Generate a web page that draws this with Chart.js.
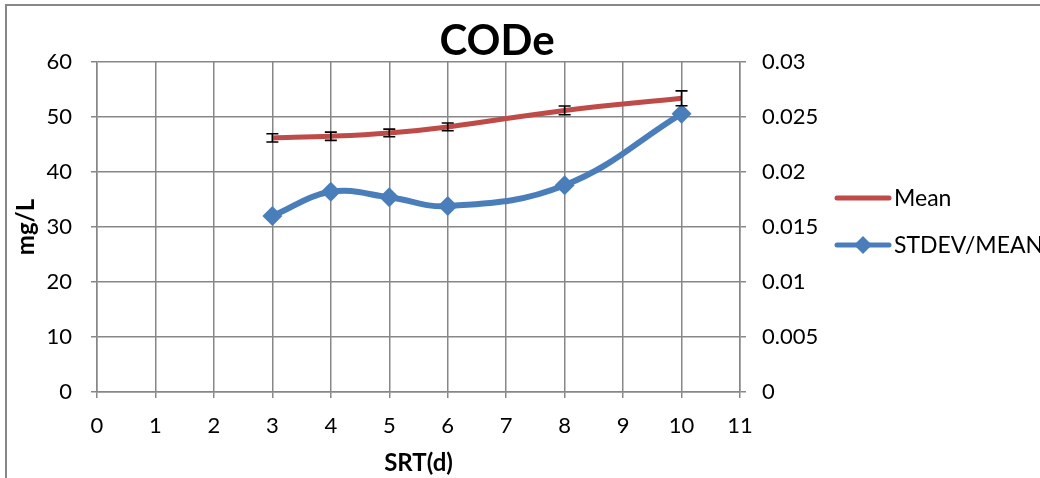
<!DOCTYPE html>
<html><head><meta charset="utf-8">
<script src="https://cdn.jsdelivr.net/npm/chart.js@4"></script>
<style>
html,body{margin:0;padding:0;background:#fff;overflow:hidden}
#wrap{position:relative;width:1040px;height:478px;overflow:hidden}
#frame{position:absolute;left:5px;top:4px;width:1100px;height:600px;border-left:2px solid #878787;border-top:2px solid #878787}
canvas{position:absolute;left:0;top:0}
</style></head><body>
<div id="wrap"><div id="frame"></div><canvas id="c" width="1040" height="478"></canvas></div>
<script>
// SRT (days) and the effluent COD statistics measured at each
const srt = [3, 4, 5, 6, 8, 10];
const meanCOD = [46.2, 46.5, 47.1, 48.2, 51.2, 53.4];
const meanErr = [0.75, 0.75, 0.7, 0.7, 0.8, 1.35];
const stdevOverMean = [0.0160, 0.0182, 0.0177, 0.0169, 0.0188, 0.0253];

// axis ticks
const xTicks = [0, 1, 2, 3, 4, 5, 6, 7, 8, 9, 10, 11];
const leftTicks = [0, 10, 20, 30, 40, 50, 60];
const rightTicks = [0, 0.005, 0.01, 0.015, 0.02, 0.025, 0.03];
const rightTickLabels = ['0', '0.005', '0.01', '0.015', '0.02', '0.025', '0.03'];

const chartTitle = 'CODe';
const xTitle = 'SRT(d)';
const yTitle = 'mg/L';

const FONT = 'Lato, "Open Sans", sans-serif';
const GRID = '#878787';
const RED = '#BE4B48';
const BLUE = '#4A7EBB';

const toPoints = (xs, ys) => xs.map((x, i) => ({ x, y: ys[i] }));
const setTicks = (vals) => (scale) => { scale.ticks = vals.map(v => ({ value: v })); };

const titlePlugin = {
  id: 'chartTitleText',
  afterDraw(chart) {
    const ctx = chart.ctx;
    ctx.save();
    ctx.font = 'bold 42px ' + FONT;
    ctx.fillStyle = '#000';
    ctx.textAlign = 'center';
    ctx.textBaseline = 'alphabetic';
    ctx.fillText(chartTitle, 497, 55);
    ctx.restore();
  }
};

const errorBars = {
  id: 'errorBars',
  afterDatasetsDraw(chart) {
    const ctx = chart.ctx;
    const xs = chart.scales.x, ys = chart.scales.y;
    ctx.save();
    ctx.strokeStyle = '#000';
    ctx.lineWidth = 1.6;
    srt.forEach((x, i) => {
      const px = xs.getPixelForValue(x);
      const top = ys.getPixelForValue(meanCOD[i] + meanErr[i]);
      const bot = ys.getPixelForValue(meanCOD[i] - meanErr[i]);
      ctx.beginPath();
      ctx.moveTo(px, top); ctx.lineTo(px, bot);
      ctx.moveTo(px - 6, top); ctx.lineTo(px + 6, top);
      ctx.moveTo(px - 6, bot); ctx.lineTo(px + 6, bot);
      ctx.stroke();
    });
    ctx.restore();
  }
};

const sideLegend = {
  id: 'sideLegend',
  afterDraw(chart) {
    const ctx = chart.ctx;
    const rows = [198, 245];
    ctx.save();
    chart.data.datasets.forEach((ds, i) => {
      const y = rows[i];
      ctx.strokeStyle = ds.borderColor;
      ctx.lineWidth = 5;
      ctx.lineCap = 'round';
      ctx.beginPath();
      ctx.moveTo(837, y); ctx.lineTo(889, y);
      ctx.stroke();
      if (ds.pointRadius > 0) {
        ctx.fillStyle = ds.pointBackgroundColor;
        ctx.beginPath();
        ctx.moveTo(863, y - 9); ctx.lineTo(872, y); ctx.lineTo(863, y + 9); ctx.lineTo(854, y);
        ctx.closePath();
        ctx.fill();
      }
      ctx.fillStyle = '#000';
      ctx.font = '23px ' + FONT;
      ctx.textAlign = 'left';
      ctx.textBaseline = 'middle';
      ctx.fillText(ds.label, 894, y + 1);
    });
    ctx.restore();
  }
};

new Chart(document.getElementById('c'), {
  type: 'line',
  data: {
    datasets: [
      {
        label: 'Mean',
        data: toPoints(srt, meanCOD),
        yAxisID: 'y',
        borderColor: RED,
        backgroundColor: RED,
        borderWidth: 5,
        pointRadius: 0,
        tension: 0.4,
        order: 2
      },
      {
        label: 'STDEV/MEAN',
        data: toPoints(srt, stdevOverMean),
        yAxisID: 'y1',
        borderColor: BLUE,
        backgroundColor: BLUE,
        pointBackgroundColor: BLUE,
        pointBorderColor: BLUE,
        borderWidth: 6,
        pointStyle: 'rectRot',
        pointRadius: 10,
        pointBorderWidth: 0,
        tension: 0.4,
        order: 1
      }
    ]
  },
  options: {
    responsive: false,
    animation: false,
    devicePixelRatio: 1,
    layout: { padding: { top: 62, left: 0, right: 0, bottom: 0 } },
    plugins: { legend: { display: false }, title: { display: false }, tooltip: { enabled: false } },
    scales: {
      x: {
        type: 'linear',
        position: 'bottom',
        min: 0, max: 11,
        afterBuildTicks: setTicks(xTicks),
        afterFit: (s) => { s.height = 86; },
        grid: { color: GRID, lineWidth: 1.5, tickLength: 6, tickColor: GRID },
        border: { color: GRID, width: 1.5 },
        ticks: { color: '#000', font: { family: FONT, size: 22 }, padding: 15, maxRotation: 0, autoSkip: false },
        title: { display: true, text: xTitle, color: '#000', font: { family: FONT, size: 24, weight: 'bold' }, padding: { top: 0, bottom: 0 } }
      },
      y: {
        type: 'linear',
        position: 'left',
        min: 0, max: 60,
        afterBuildTicks: setTicks(leftTicks),
        afterFit: (s) => { s.width = 97; },
        grid: { color: GRID, lineWidth: 1.5, tickLength: 6, tickColor: GRID },
        border: { color: GRID, width: 1.5 },
        ticks: { color: '#000', font: { family: FONT, size: 22 }, padding: 19 },
        title: { display: true, text: yTitle, color: '#000', font: { family: FONT, size: 24, weight: 'bold' }, padding: { top: 12, bottom: 0 } }
      },
      y1: {
        type: 'linear',
        position: 'right',
        min: 0, max: 0.03,
        afterBuildTicks: setTicks(rightTicks),
        afterFit: (s) => { s.width = 300; },
        grid: { drawOnChartArea: false, color: GRID, lineWidth: 1.5, tickLength: 6, tickColor: GRID },
        border: { color: GRID, width: 1.5 },
        ticks: {
          color: '#000', font: { family: FONT, size: 22 }, padding: 16,
          callback: (v) => rightTickLabels[rightTicks.indexOf(v)]
        }
      }
    }
  },
  plugins: [errorBars, sideLegend, titlePlugin]
});
</script>
</body></html>
